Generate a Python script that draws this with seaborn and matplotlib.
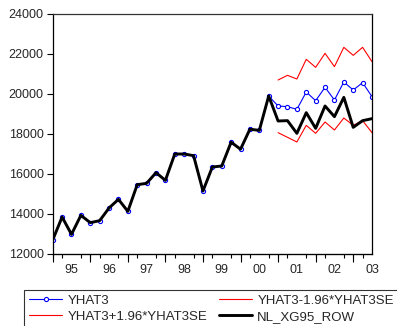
import matplotlib
matplotlib.use("Agg")
import matplotlib.pyplot as plt
import seaborn as sns
import pandas as pd
import numpy as np

# Quarterly observations 1995Q1 .. 2003Q3
periods = pd.period_range("1995Q1", "2003Q3", freq="Q")
actual = [12700, 13850, 12983, 13933, 13567, 13667, 14300, 14733, 14133,
          15467, 15533, 16067, 15683, 17000, 17000, 16917, 15150, 16350,
          16400, 17590, 17240, 18240, 18180, 19900, 18650, 18667, 18033,
          19067, 18283, 19400, 18867, 19833, 18333, 18667, 18767]
yhat_forecast = [19400, 19367, 19233, 20100, 19667, 20333, 19700, 20600,
                 20200, 20567, 19867]
upper = [20700, 20933, 20750, 21733, 21333, 22033, 21367, 22333, 21933,
         22333, 21617]
lower = [18067, 17833, 17600, 18433, 18033, 18600, 18200, 18800, 18433,
         18667, 18067]
year_labels = ["95", "96", "97", "98", "99", "00", "01", "02", "03"]
y_ticks = [12000, 14000, 16000, 18000, 20000, 22000, 24000]

n = len(actual)
nf = len(yhat_forecast)
idx = np.arange(n)
yhat = actual[: n - nf] + yhat_forecast
fc_idx = idx[n - nf:]

df = pd.DataFrame({"t": idx, "actual": actual, "yhat": yhat})
dff = pd.DataFrame({"t": fc_idx, "upper": upper, "lower": lower})

sns.set_style("ticks")
plt.rcParams["font.family"] = ["Liberation Sans", "DejaVu Sans"]
plt.rcParams["font.size"] = 9

W, H = 397, 326
fig = plt.figure(figsize=(W / 100, H / 100), dpi=100)
ax = fig.add_axes([52.7 / W, 1 - 254 / H, (372 - 52.7) / W, (254 - 14) / H])

sns.lineplot(data=df, x="t", y="yhat", ax=ax, color="#0000ff", lw=0.8,
             marker="o", markersize=3.0, markerfacecolor="white",
             markeredgecolor="#0000ff", markeredgewidth=0.8,
             label="YHAT3", zorder=2)
sns.lineplot(data=dff, x="t", y="upper", ax=ax, color="#ff0000", lw=0.8,
             label="YHAT3+1.96*YHAT3SE", zorder=2)
sns.lineplot(data=dff, x="t", y="lower", ax=ax, color="#ff0000", lw=0.8,
             label="YHAT3-1.96*YHAT3SE", zorder=2)
sns.lineplot(data=df, x="t", y="actual", ax=ax, color="black", lw=2.1,
             label="NL_XG95_ROW", zorder=3)

ax.set_xlim(0, n - 1)
ax.set_ylim(12000, 24000)
ax.set_xlabel("")
ax.set_ylabel("")
ax.set_yticks(y_ticks)
ax.set_yticklabels([str(v) for v in y_ticks])
ax.tick_params(axis="y", length=4, width=0.8, pad=2.5, labelsize=9, color="black")

# year labels at mid-year, quarter minor ticks
label_pos = [4 * k + 2 for k in range(len(year_labels))]
ax.set_xticks(label_pos)
ax.set_xticklabels(year_labels)
ax.set_xticks(np.arange(0, n), minor=True)
ax.tick_params(axis="x", which="major", length=0, pad=7, labelsize=9)
ax.tick_params(axis="x", which="minor", length=3, width=0.8, color="black")
sec = ax.secondary_xaxis("bottom")
sec.set_xticks([4 * k for k in range(len(year_labels))])
sec.set_xticklabels([])
sec.tick_params(axis="x", length=6, width=0.8, color="black")
sec.spines["bottom"].set_linewidth(0.8)

for s in ax.spines.values():
    s.set_visible(True)
    s.set_linewidth(0.9)
    s.set_color("black")
ax.spines["top"].set_color("#333333")

ax.get_legend().remove()
handles, labels = ax.get_legend_handles_labels()
order = ["YHAT3", "YHAT3+1.96*YHAT3SE", "YHAT3-1.96*YHAT3SE", "NL_XG95_ROW"]
hmap = dict(zip(labels, handles))
leg = fig.legend([hmap[k] for k in order], order, ncol=2, loc="upper left",
                 bbox_to_anchor=(24 / W, 1 - 289.5 / H), borderaxespad=0,
                 fontsize=9.5, frameon=True, fancybox=False, handlelength=2.5,
                 handletextpad=0.43, columnspacing=0.83, labelspacing=0.27,
                 borderpad=0.4, numpoints=1)
leg.get_frame().set_edgecolor("black")
leg.get_frame().set_linewidth(0.8)

fig.savefig("out.png", dpi=100)
